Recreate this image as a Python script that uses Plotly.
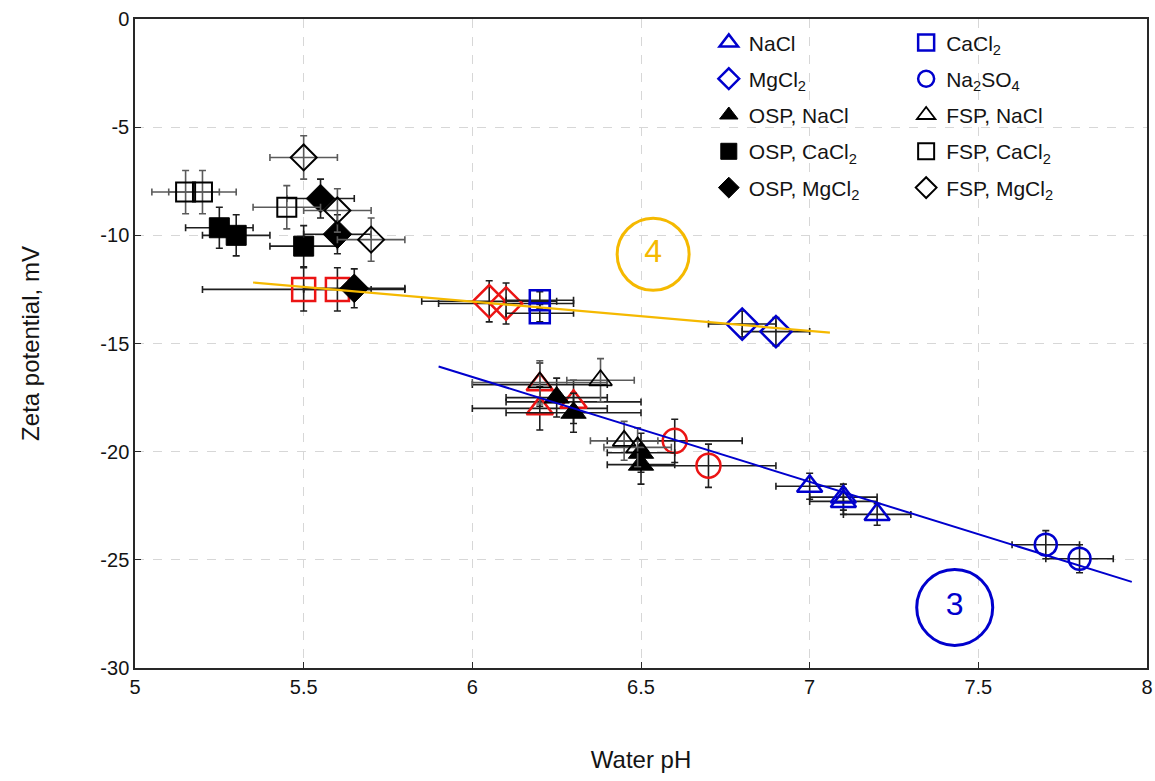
import plotly.graph_objects as go

# ---------------- data ----------------
nacl_x = [7.0, 7.1, 7.1, 7.2]
nacl_y = [-21.6, -22.1, -22.3, -22.9]
nacl_xe = [0.1, 0.1, 0.1, 0.1]
nacl_ye = [0.6, 0.6, 0.6, 0.5]

cacl2_x = [6.2, 6.2]
cacl2_y = [-13.0, -13.6]
cacl2_xe = [0.1, 0.1]
cacl2_ye = [0.4, 0.4]

mgcl2_x = [6.8, 6.9]
mgcl2_y = [-14.1, -14.45]
mgcl2_xe = [0.1, 0.1]
mgcl2_ye = [0.6, 0.65]

na2so4_x = [7.7, 7.8]
na2so4_y = [-24.3, -24.95]
na2so4_xe = [0.1, 0.1]
na2so4_ye = [0.65, 0.65]

osp_nacl_x = [6.25, 6.3, 6.5, 6.5]
osp_nacl_y = [-17.5, -18.2, -20.05, -20.6]
osp_nacl_xe = [0.15, 0.2, 0.1, 0.1]
osp_nacl_ye = [0.9, 0.9, 0.9, 0.9]

fsp_nacl_x = [6.2, 6.38, 6.45, 6.49]
fsp_nacl_y = [-16.8, -16.7, -19.5, -19.8]
fsp_nacl_xe = [0.2, 0.1, 0.1, 0.1]
fsp_nacl_ye = [1.0, 1.0, 0.9, 0.9]

osp_cacl2_x = [5.25, 5.3, 5.5]
osp_cacl2_y = [-9.65, -10.0, -10.5]
osp_cacl2_xe = [0.1, 0.1, 0.1]
osp_cacl2_ye = [0.95, 0.95, 0.95]

fsp_cacl2_x = [5.15, 5.2, 5.45]
fsp_cacl2_y = [-8.0, -8.0, -8.7]
fsp_cacl2_xe = [0.1, 0.1, 0.1]
fsp_cacl2_ye = [1.0, 1.0, 1.0]

osp_mgcl2_x = [5.55, 5.6, 5.65]
osp_mgcl2_y = [-8.3, -9.95, -12.45]
osp_mgcl2_xe = [0.1, 0.1, 0.15]
osp_mgcl2_ye = [0.9, 0.9, 0.9]

fsp_mgcl2_x = [5.5, 5.6, 5.7]
fsp_mgcl2_y = [-6.4, -8.85, -10.2]
fsp_mgcl2_xe = [0.1, 0.1, 0.1]
fsp_mgcl2_ye = [1.0, 1.0, 1.0]

red_sq_x = [5.5, 5.6]
red_sq_y = [-12.5, -12.5]
red_sq_xe = [0.3, 0.1]
red_sq_ye = [1.0, 1.0]

red_di_x = [6.05, 6.1]
red_di_y = [-13.05, -13.15]
red_di_xe = [0.2, 0.2]
red_di_ye = [0.95, 0.95]

red_tri_x = [6.2, 6.2, 6.3]
red_tri_y = [-16.9, -18.0, -17.7]
red_tri_xe = [0.2, 0.2, 0.2]
red_tri_ye = [1.0, 1.0, 1.0]

red_ci_x = [6.6, 6.7]
red_ci_y = [-19.5, -20.65]
red_ci_xe = [0.2, 0.2]
red_ci_ye = [1.0, 1.0]

fit4_x = [5.35, 7.06]
fit4_y = [-12.18, -14.5]
fit3_x = [5.9, 7.955]
fit3_y = [-16.06, -26.02]

label_text = ["4", "3"]
label_x = [6.536, 7.43]
label_y = [-10.88, -27.2]

x_ticks = [5, 5.5, 6, 6.5, 7, 7.5, 8]
y_ticks = [0, -5, -10, -15, -20, -25, -30]

# ---------------- styling ----------------
BLUE = "rgb(0,0,205)"
RED = "rgb(235,20,20)"
ORANGE = "rgb(245,185,0)"
BLACK = "rgb(0,0,0)"
ERR = "rgb(30,30,30)"
ERR_G = "rgb(90,90,90)"
FONT = "Liberation Sans, Arial, sans-serif"

fig = go.Figure()


def add(name, x, y, xe, ye, symbol, color, size, lw, legend=None, show=True, errcol=ERR, fill=None):
    fig.add_trace(go.Scatter(
        x=x, y=y, mode="markers", name=name,
        showlegend=show, legend=legend if legend else "legend",
        legendgroup=name,
        marker=dict(symbol=symbol, size=size, color=fill if fill else color,
                    line=dict(color=color, width=lw)),
        error_x=dict(type="data", array=xe, visible=True, color=errcol, thickness=1.6, width=3.5),
        error_y=dict(type="data", array=ye, visible=True, color=errcol, thickness=1.6, width=3.5),
    ))


# red (unlabelled) series
add("red squares", red_sq_x, red_sq_y, red_sq_xe, red_sq_ye, "square-open", RED, 23, 2.5, show=False)
add("red diamonds", red_di_x, red_di_y, red_di_xe, red_di_ye, "diamond-open", RED, 25, 2.5, show=False)
add("red triangles", red_tri_x, red_tri_y, red_tri_xe, red_tri_ye, "triangle-up-open", RED, 23, 2.5, show=False)
add("red circles", red_ci_x, red_ci_y, red_ci_xe, red_ci_ye, "circle-open", RED, 24, 2.5, show=False)

# legend column 1
add("NaCl", nacl_x, nacl_y, nacl_xe, nacl_ye, "triangle-up-open", BLUE, 22, 2.5, legend="legend")
add("MgCl<sub>2</sub>", mgcl2_x, mgcl2_y, mgcl2_xe, mgcl2_ye, "diamond-open", BLUE, 24, 2.5, legend="legend")
add("OSP, NaCl", osp_nacl_x, osp_nacl_y, osp_nacl_xe, osp_nacl_ye, "triangle-up", BLACK, 22, 1, legend="legend")
add("OSP, CaCl<sub>2</sub>", osp_cacl2_x, osp_cacl2_y, osp_cacl2_xe, osp_cacl2_ye, "square", BLACK, 20, 1, legend="legend")
add("OSP, MgCl<sub>2</sub>", osp_mgcl2_x, osp_mgcl2_y, osp_mgcl2_xe, osp_mgcl2_ye, "diamond", BLACK, 22, 1, legend="legend")

# legend column 2
add("CaCl<sub>2</sub>", cacl2_x, cacl2_y, cacl2_xe, cacl2_ye, "square-open", BLUE, 20, 2.5, legend="legend2")
add("Na<sub>2</sub>SO<sub>4</sub>", na2so4_x, na2so4_y, na2so4_xe, na2so4_ye, "circle-open", BLUE, 22, 2.5, legend="legend2")
add("FSP, NaCl", fsp_nacl_x, fsp_nacl_y, fsp_nacl_xe, fsp_nacl_ye, "triangle-up-open", BLACK, 20, 1.8, legend="legend2", errcol=ERR_G)
add("FSP, CaCl<sub>2</sub>", fsp_cacl2_x, fsp_cacl2_y, fsp_cacl2_xe, fsp_cacl2_ye, "square-open", BLACK, 19, 2, legend="legend2", errcol=ERR_G)
add("FSP, MgCl<sub>2</sub>", fsp_mgcl2_x, fsp_mgcl2_y, fsp_mgcl2_xe, fsp_mgcl2_ye, "diamond-open", BLACK, 20, 2, legend="legend2", errcol=ERR_G)

# fitted trend lines
fig.add_trace(go.Scatter(x=fit4_x, y=fit4_y, mode="lines", showlegend=False,
                         line=dict(color=ORANGE, width=2.2)))
fig.add_trace(go.Scatter(x=fit3_x, y=fit3_y, mode="lines", showlegend=False,
                         line=dict(color=BLUE, width=2)))

# circled region labels
fig.add_trace(go.Scatter(
    x=label_x[:1], y=label_y[:1], mode="markers+text", text=label_text[:1],
    textposition="middle center", showlegend=False,
    textfont=dict(family=FONT, size=32, color=ORANGE),
    marker=dict(symbol="circle-open", size=72, color=ORANGE, line=dict(color=ORANGE, width=3))))
fig.add_trace(go.Scatter(
    x=label_x[1:], y=label_y[1:], mode="markers+text", text=label_text[1:],
    textposition="middle center", showlegend=False,
    textfont=dict(family=FONT, size=32, color=BLUE),
    marker=dict(symbol="circle-open", size=76, color=BLUE, line=dict(color=BLUE, width=3))))

axis_common = dict(
    showline=True, linecolor="rgb(40,40,40)", linewidth=1.5, mirror=True,
    ticks="inside", ticklen=6, tickcolor="rgb(40,40,40)",
    showgrid=True, gridcolor="rgb(215,215,215)", griddash="dash", gridwidth=1,
    zeroline=False, automargin=False, ticklabeloverflow="allow",
    tickfont=dict(family=FONT, size=20, color="rgb(20,20,20)"),
)

fig.update_layout(
    width=1155, height=781,
    margin=dict(l=135, r=8, t=19, b=113),
    paper_bgcolor="white", plot_bgcolor="white",
    font=dict(family=FONT, color="rgb(20,20,20)"),
    xaxis=dict(range=[5, 8], tickvals=x_ticks, ticktext=[str(v) for v in x_ticks],
               title=dict(text="Water pH", font=dict(family=FONT, size=24), standoff=54),
               **axis_common),
    yaxis=dict(range=[-30, 0], tickvals=y_ticks, ticktext=[str(v) for v in y_ticks],
               title=dict(text="Zeta potential, mV", font=dict(family=FONT, size=24), standoff=54),
               **axis_common),
    legend=dict(x=0.567, y=0.995, xanchor="left", yanchor="top", bgcolor="rgba(0,0,0,0)",
                font=dict(family=FONT, size=21, color="rgb(20,20,20)"),
                itemwidth=30, tracegroupgap=6, traceorder="grouped"),
    legend2=dict(x=0.762, y=0.995, xanchor="left", yanchor="top", bgcolor="rgba(0,0,0,0)",
                 font=dict(family=FONT, size=21, color="rgb(20,20,20)"),
                 itemwidth=30, tracegroupgap=6, traceorder="grouped"),
)

fig.write_html("out.html")
